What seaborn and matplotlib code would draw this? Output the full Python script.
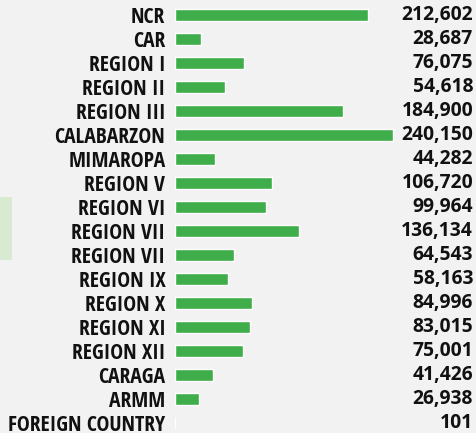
import matplotlib
matplotlib.use("Agg")
import matplotlib.pyplot as plt
import seaborn as sns
import pandas as pd
from matplotlib.patches import Rectangle
from matplotlib import font_manager as fm

regions = ["NCR", "CAR", "REGION I", "REGION II", "REGION III", "CALABARZON",
           "MIMAROPA", "REGION V", "REGION VI", "REGION VII", "REGION VII",
           "REGION IX", "REGION X", "REGION XI", "REGION XII", "CARAGA",
           "ARMM", "FOREIGN COUNTRY"]
counts = [212602, 28687, 76075, 54618, 184900, 240150, 44282, 106720, 99964,
          136134, 64543, 58163, 84996, 83015, 75001, 41426, 26938, 101]
value_labels = ["212,602", "28,687", "76,075", "54,618", "184,900", "240,150",
                "44,282", "106,720", "99,964", "136,134", "64,543", "58,163",
                "84,996", "83,015", "75,001", "41,426", "26,938", "101"]

sns.set_theme(style="white")
FONT = ["Open Sans Condensed", "DejaVu Sans"]
plt.rcParams["font.family"] = FONT

W, H = 476, 433
fig = plt.figure(figsize=(W / 100, H / 100), dpi=100)
fig.patch.set_facecolor("#f2f2f2")
fig.patches.append(Rectangle((0, 1 - 260 / H), 12 / W, 63 / H, transform=fig.transFigure,
                             facecolor="#d9ead3", edgecolor="none", zorder=0))

renderer = fig.canvas.get_renderer()

# value font: static Open Sans Bold if present, else the condensed bold
bold_files = [f.fname for f in fm.fontManager.ttflist
              if f.fname.split("/")[-1].lower() == "opensans-bold.ttf"]

def make_prop(size):
    if bold_files:
        return fm.FontProperties(fname=bold_files[0], size=size)
    return fm.FontProperties(family=FONT, weight="bold", size=size)

def width_of(s, prop):
    t = fig.text(0, 0, s, fontproperties=prop)
    w = t.get_window_extent(renderer).width
    t.remove()
    return w

def fit_label(s, target_px, base=14):
    p = fm.FontProperties(family=FONT, weight="bold", size=base)
    return base * target_px / width_of(s, p)

label_fs = fit_label("CALABARZON", 111)
if bold_files:
    value_fs = 14 * 72 / width_of("240,150", make_prop(14))
else:
    value_fs = label_fs
value_prop = make_prop(value_fs)

left_px, right_px = 175, 411
top_px, bot_px = 3, 435
ax = fig.add_axes([left_px / W, 1 - bot_px / H, (right_px - left_px) / W, (bot_px - top_px) / H])
ax.set_facecolor("none")

df = pd.DataFrame({"key": [str(i) for i in range(len(regions))], "count": counts})
sns.barplot(data=df, y="key", x="count", orient="h", color="#3fae4a",
            saturation=1, width=0.46, ax=ax)
ax.set_xlim(0, 260000)
ax.set_ylim(len(regions) - 0.5, -0.5)
ax.set_yticks(range(len(regions)))
ax.set_yticklabels(regions, fontsize=label_fs, fontweight="bold", color="#111111")
ax.tick_params(axis="y", length=0, pad=7)
ax.set_xticks([])
ax.set_xlabel("")
ax.set_ylabel("")
for s in ax.spines.values():
    s.set_visible(False)

for i, lab in enumerate(value_labels):
    ax.annotate(lab, xy=(1, i), xycoords=("figure fraction", "data"),
                xytext=(-3, 0), textcoords="offset pixels",
                ha="right", va="center", fontproperties=value_prop, color="#111111")

fig.savefig("out.png", dpi=100, facecolor=fig.get_facecolor())
